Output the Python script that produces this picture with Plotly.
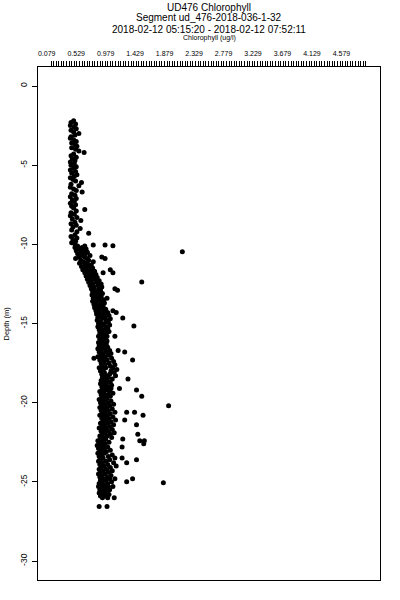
import plotly.graph_objects as go

# ---------------- data ----------------
depth_upper = [-2.2, -2.3, -2.4, -2.5, -2.6, -2.7, -2.8, -2.9, -3.0, -3.1,
               -3.2, -3.3, -3.4, -3.5, -3.6, -3.7, -3.8, -3.9, -4.0, -4.1,
               -4.2, -4.3, -4.4, -4.5, -4.6, -4.7, -4.8, -4.9, -5.0, -5.1,
               -5.2, -5.3, -5.4, -5.5, -5.6, -5.7, -5.8, -5.9, -6.0, -6.1,
               -6.2, -6.3, -6.4, -6.5, -6.6, -6.7, -6.8, -6.9, -7.0, -7.1,
               -7.2, -7.3, -7.4, -7.5, -7.6, -7.7, -7.8, -7.9, -8.0, -8.1,
               -8.2, -8.3, -8.4, -8.5, -8.6, -8.7, -8.8, -8.9, -9.0, -9.1,
               -9.2, -9.3, -9.4, -9.5, -9.6, -9.7, -9.8, -9.9, -10.0]
chl_upper = [0.49, 0.45, 0.52, 0.44, 0.50, 0.53, 0.45, 0.49, 0.57, 0.51,
             0.45, 0.44, 0.49, 0.53, 0.46, 0.51, 0.54, 0.46, 0.52, 0.57,
             0.65, 0.49, 0.45, 0.53, 0.47, 0.51, 0.44, 0.50, 0.45, 0.53,
             0.49, 0.44, 0.52, 0.46, 0.54, 0.50, 0.44, 0.48, 0.52, 0.61,
             0.45, 0.57, 0.44, 0.49, 0.53, 0.62, 0.46, 0.51, 0.44, 0.53,
             0.47, 0.50, 0.44, 0.52, 0.46, 0.49, 0.66, 0.53, 0.45, 0.50,
             0.44, 0.54, 0.47, 0.60, 0.51, 0.45, 0.53, 0.48, 0.59, 0.46,
             0.54, 0.72, 0.51, 0.45, 0.54, 0.48, 0.52, 0.46, 0.51]

depth_core = [-10.1, -10.2, -10.3, -10.4, -10.5, -10.6, -10.7, -10.8, -10.9, -11.0,
              -11.1, -11.2, -11.3, -11.4, -11.5, -11.6, -11.7, -11.8, -11.9, -12.0,
              -12.1, -12.2, -12.3, -12.4, -12.5, -12.6, -12.7, -12.8, -12.9, -13.0,
              -13.1, -13.2, -13.3, -13.4, -13.5, -13.6, -13.7, -13.8, -13.9, -14.0,
              -14.1, -14.2, -14.3, -14.4, -14.5, -14.6, -14.7, -14.8, -14.9, -15.0,
              -15.1, -15.2, -15.3, -15.4, -15.5, -15.6, -15.7, -15.8, -15.9, -16.0,
              -16.1, -16.2, -16.3, -16.4, -16.5, -16.6, -16.7, -16.8, -16.9, -17.0,
              -17.1, -17.2, -17.3, -17.4, -17.5, -17.6, -17.7, -17.8, -17.9, -18.0,
              -18.1, -18.2, -18.3, -18.4, -18.5, -18.6, -18.7, -18.8, -18.9, -19.0,
              -19.1, -19.2, -19.3, -19.4, -19.5, -19.6, -19.7, -19.8, -19.9, -20.0,
              -20.1, -20.2, -20.3, -20.4, -20.5, -20.6, -20.7, -20.8, -20.9, -21.0,
              -21.1, -21.2, -21.3, -21.4, -21.5, -21.6, -21.7, -21.8, -21.9, -22.0,
              -22.1, -22.2, -22.3, -22.4, -22.5, -22.6, -22.7, -22.8, -22.9, -23.0,
              -23.1, -23.2, -23.3, -23.4, -23.5, -23.6, -23.7, -23.8, -23.9, -24.0,
              -24.1, -24.2, -24.3, -24.4, -24.5, -24.6, -24.7, -24.8, -24.9, -25.0,
              -25.1, -25.2, -25.3, -25.4, -25.5, -25.6, -25.7, -25.8, -25.9, -26.0]
chl_core_left = [0.55, 0.51, 0.58, 0.53, 0.60, 0.55, 0.62, 0.57, 0.52, 0.60,
                 0.64, 0.58, 0.66, 0.61, 0.68, 0.63, 0.70, 0.66, 0.72, 0.68,
                 0.74, 0.70, 0.76, 0.72, 0.78, 0.74, 0.80, 0.76, 0.82, 0.78,
                 0.84, 0.77, 0.82, 0.79, 0.85, 0.78, 0.83, 0.80, 0.86, 0.81,
                 0.88, 0.83, 0.89, 0.84, 0.91, 0.86, 0.92, 0.85, 0.90, 0.87,
                 0.93, 0.86, 0.91, 0.88, 0.94, 0.89, 0.92, 0.87, 0.93, 0.89,
                 0.91, 0.87, 0.92, 0.88, 0.93, 0.86, 0.91, 0.88, 0.94, 0.90,
                 0.86, 0.93, 0.89, 0.95, 0.91, 0.97, 0.92, 0.98, 0.94, 0.90,
                 0.96, 0.92, 0.99, 0.93, 0.97, 0.91, 0.95, 0.90, 0.96, 0.92,
                 0.98, 0.93, 0.89, 0.95, 0.91, 0.97, 0.92, 0.88, 0.94, 0.90,
                 0.96, 0.92, 0.89, 0.95, 0.91, 0.97, 0.93, 0.89, 0.96, 0.92,
                 0.98, 0.94, 0.90, 0.96, 0.92, 0.88, 0.95, 0.91, 0.97, 0.93,
                 0.89, 0.94, 0.90, 0.86, 0.92, 0.88, 0.85, 0.91, 0.87, 0.93,
                 0.89, 0.86, 0.92, 0.88, 0.94, 0.90, 0.87, 0.93, 0.89, 0.95,
                 0.91, 0.88, 0.94, 0.90, 0.87, 0.92, 0.89, 0.94, 0.90, 0.93,
                 0.88, 0.91, 0.87, 0.93, 0.89, 0.92, 0.88, 0.94, 0.90, 0.93]
chl_core_right = [0.66, 0.62, 0.68, 0.64, 0.70, 0.67, 0.74, 0.66, 0.69, 0.72,
                  0.79, 0.70, 0.76, 0.73, 0.78, 0.75, 0.81, 0.77, 0.83, 0.79,
                  0.85, 0.81, 0.88, 0.84, 0.91, 0.86, 0.92, 0.88, 0.90, 0.86,
                  0.93, 0.88, 0.91, 0.87, 0.95, 0.90, 0.96, 0.89, 0.94, 0.92,
                  0.98, 0.95, 1.01, 0.96, 1.03, 0.97, 1.05, 0.99, 1.02, 0.96,
                  1.04, 0.98, 1.01, 0.97, 1.03, 0.99, 0.96, 1.00, 0.98, 0.95,
                  1.00, 0.96, 0.99, 0.95, 1.01, 0.97, 1.04, 0.99, 1.06, 1.02,
                  0.97, 1.07, 1.00, 1.10, 1.03, 1.12, 1.05, 1.09, 1.15, 1.06,
                  1.11, 1.04, 1.13, 1.02, 1.08, 1.00, 1.05, 0.99, 1.07, 1.02,
                  1.06, 1.00, 1.04, 1.09, 1.01, 1.05, 1.00, 0.98, 1.06, 1.02,
                  1.10, 1.04, 0.99, 1.08, 1.02, 1.12, 1.05, 1.00, 1.09, 1.03,
                  1.13, 1.06, 1.01, 1.10, 1.04, 0.99, 1.08, 1.02, 1.11, 1.05,
                  1.00, 1.07, 0.98, 0.95, 1.03, 0.97, 0.94, 1.01, 0.96, 1.05,
                  0.99, 0.96, 1.08, 1.02, 1.12, 1.04, 0.98, 1.10, 1.01, 1.14,
                  1.05, 0.99, 1.08, 1.02, 0.97, 1.06, 1.00, 1.04, 0.98, 1.07,
                  1.01, 0.96, 1.02, 0.99, 1.04, 0.97, 1.00, 1.03, 0.97, 1.01]

depth_scatter = [-10.04, -10.04, -10.09, -10.47, -10.8, -10.9, -11.6, -11.8, -11.8,
                 -12.38, -12.8, -12.9, -13.4, -14.2, -14.3, -14.66, -15.16, -15.8,
                 -16.7, -16.8, -17.2, -17.3, -17.8, -18.5, -19.1, -19.2, -19.6,
                 -20.2, -20.6, -20.6, -20.8, -21.1, -21.4, -22.0, -22.3, -22.4,
                 -22.4, -22.6, -22.8, -23.5, -23.6, -23.8, -24.8, -24.8, -25.0,
                 -25.05, -25.3, -26.0, -26.55, -26.55]
chl_scatter = [0.79, 0.97, 1.09, 2.15, 0.92, 0.97, 1.05, 1.09, 0.94,
               1.53, 1.12, 1.16, 1.00, 1.09, 1.14, 1.24, 1.41, 1.12,
               1.17, 1.27, 0.80, 1.39, 0.88, 1.32, 1.19, 1.45, 1.53,
               1.94, 1.30, 1.42, 1.55, 1.27, 1.45, 1.47, 1.24, 1.50,
               1.57, 1.56, 1.23, 1.23, 1.45, 1.30, 1.39, 1.12, 1.30,
               1.86, 1.09, 1.11, 0.88, 1.00]

x_tick_vals = [0.079, 0.529, 0.979, 1.429, 1.879, 2.329, 2.779, 3.229, 3.679, 4.129, 4.579]
x_tick_text = ["0.079", "0.529", "0.979", "1.429", "1.879", "2.329", "2.779",
               "3.229", "3.679", "4.129", "4.579"]
y_tick_vals = [0, -5, -10, -15, -20, -25, -30]
y_tick_text = ["0", "-5", "-10", "-15", "-20", "-25", "-30"]

title_lines = ["UD476 Chlorophyll", "Segment ud_476-2018-036-1-32",
               "2018-02-12 05:15:20 - 2018-02-12 07:52:11"]
x_title = "Chlorophyll (ug/l)"
y_title = "Depth (m)"

# ---------------- figure ----------------
x_all = chl_upper + chl_core_left + chl_core_right + chl_scatter
y_all = depth_upper + depth_core + depth_core + depth_scatter

FONT = "Liberation Sans, Arial, sans-serif"
NARROW = "Liberation Sans Narrow, Liberation Sans, Arial, sans-serif"

PL, PR, PT, PB = 38, 380, 67, 580   # plot box in window pixels
W, H = 400, 600

fig = go.Figure()
fig.add_trace(go.Scatter(x=x_all, y=y_all, mode="markers",
                         marker=dict(color="black", size=5, line=dict(width=0)),
                         hoverinfo="skip"))

minor_ticks = [0.145 + i * 0.0394 for i in range(123)]

fig.update_layout(
    width=W, height=H,
    margin=dict(l=PL, r=W - PR, t=PT, b=H - PB),
    paper_bgcolor="white", plot_bgcolor="white",
    showlegend=False,
    font=dict(family=FONT, color="black"),
    xaxis=dict(
        side="top", range=[-0.054, 5.168], autorange=False,
        tickmode="array", tickvals=x_tick_vals, ticktext=x_tick_text,
        ticks="", tickfont=dict(size=7, family=NARROW, color="black"),
        ticklabelstandoff=7,
        showline=True, mirror=True, linecolor="black", linewidth=1,
        showgrid=False, zeroline=False,
        minor=dict(tickmode="array", tickvals=minor_ticks, ticks="outside",
                   ticklen=5, tickwidth=1, tickcolor="black", showgrid=False),
    ),
    yaxis=dict(
        range=[-31.2, 1.2], autorange=False,
        tickmode="array", tickvals=y_tick_vals, ticktext=y_tick_text,
        ticks="outside", ticklen=5, tickwidth=1, tickcolor="black",
        tickangle=-90, tickfont=dict(size=8.5, family=NARROW, color="black"),
        ticklabelstandoff=2,
        showline=True, mirror=True, linecolor="black", linewidth=1,
        showgrid=False, zeroline=False,
    ),
)

def py_to_paper(py):
    return (PB - py) / float(PB - PT)

def px_to_paper(px):
    return (px - PL) / float(PR - PL)

ann = []
for txt, py in zip(title_lines, [7.5, 18.0, 29.5]):
    ann.append(dict(text=txt, x=0.5, y=py_to_paper(py), xref="paper", yref="paper",
                    xanchor="center", yanchor="middle", showarrow=False,
                    font=dict(size=10, family=FONT)))
ann.append(dict(text=x_title, x=0.5, y=py_to_paper(38.5), xref="paper", yref="paper",
                xanchor="center", yanchor="middle", showarrow=False,
                font=dict(size=7, family=FONT)))
ann.append(dict(text=y_title, x=px_to_paper(6), y=0.5, xref="paper", yref="paper",
                xanchor="center", yanchor="middle", showarrow=False, textangle=-90,
                font=dict(size=7.5, family=FONT)))
fig.update_layout(annotations=ann)

# remove the browser's default 8 px page margin so the figure fills the window
fig.write_html("out.html",
               config={"displayModeBar": False},
               post_script="document.body.style.margin='0';document.body.style.overflow='hidden';")
